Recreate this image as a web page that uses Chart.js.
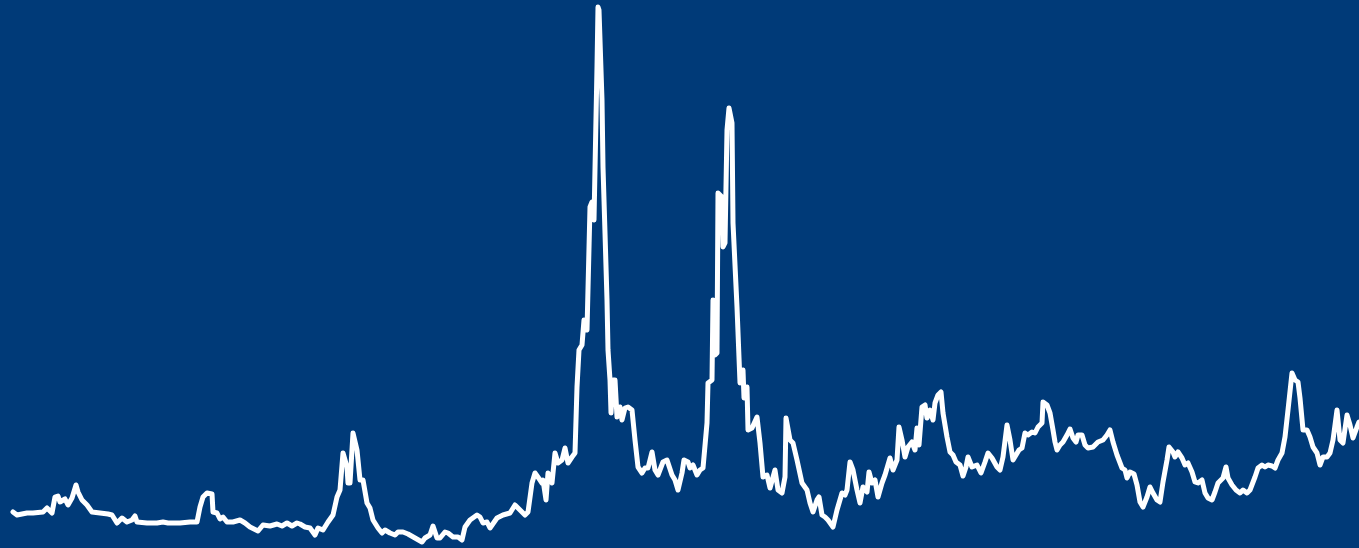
<!DOCTYPE html>
<html>
<head>
<meta charset="utf-8">
<script src="https://cdn.jsdelivr.net/npm/chart.js@4/dist/chart.umd.min.js"></script>
<style>
  html, body { margin: 0; padding: 0; background: #003a78; overflow: hidden; }
  #wrap { width: 1359px; height: 548px; position: relative; }
</style>
</head>
<body>
<div id="wrap"><canvas id="c"></canvas></div>
<script>
const days = [0,4,14,20,30,34,39,42,45,47,52,55,59,63,65,69,74,79,87,95,99,104,109,114,119,122,124,134,144,150,155,167,177,184,187,190,194,199,200,204,207,210,214,220,227,232,237,245,250,257,264,269,274,279,284,287,292,297,302,305,310,315,320,324,327,330,334,335,337,340,344,347,350,354,357,360,365,369,372,377,382,385,390,395,402,409,412,417,420,424,427,432,435,440,445,449,452,457,464,467,470,474,477,484,490,497,502,507,512,515,519,522,527,529,530,533,535,539,542,545,549,552,555,559,562,564,566,569,571,574,577,579,581,584,585,586,589,590,592,594,595,597,598,600,602,604,607,609,612,615,619,622,625,629,632,635,639,642,645,650,654,659,662,665,669,671,675,677,680,684,687,690,694,695,699,700,702,704,705,709,710,712,714,716,719,720,724,727,730,731,734,735,739,744,747,750,754,757,762,765,769,772,773,777,780,784,789,794,797,800,804,806,809,812,815,820,824,829,832,834,837,840,844,847,850,854,856,859,862,865,869,872,877,880,884,886,889,892,895,899,902,904,906,909,912,914,917,920,922,925,928,930,934,937,940,943,947,950,953,955,959,964,968,972,975,979,984,987,990,994,997,1000,1003,1006,1009,1012,1015,1019,1022,1025,1029,1030,1034,1037,1040,1042,1044,1047,1050,1054,1057,1060,1063,1065,1069,1072,1075,1080,1085,1090,1094,1097,1100,1104,1109,1112,1114,1117,1121,1124,1127,1130,1134,1137,1140,1144,1147,1150,1154,1156,1160,1162,1165,1169,1172,1175,1179,1182,1185,1189,1192,1195,1199,1202,1205,1210,1213,1215,1219,1223,1227,1230,1234,1237,1242,1245,1249,1252,1255,1259,1262,1265,1269,1272,1275,1279,1282,1285,1287,1290,1294,1297,1300,1304,1307,1310,1314,1317,1320,1324,1327,1330,1334,1337,1340,1344,1346];
const index = [36,33,35,35,36,40,35,51,52,46,49,43,50,63,56,48,43,36,35,34,33,25,30,26,28,32,26,25,25,26,25,25,26,26,41,51,55,54,36,35,29,31,26,26,28,25,21,17,23,22,24,22,25,22,25,24,21,20,13,20,18,26,33,51,58,95,81,65,65,115,98,68,68,45,40,28,20,15,18,15,13,16,16,14,10,6,10,13,22,10,10,16,15,11,11,8,21,28,33,31,25,26,20,30,33,35,43,38,33,36,65,75,68,65,68,48,75,65,95,85,88,100,85,91,95,161,198,203,228,218,341,346,328,481,541,538,448,381,315,248,198,168,135,168,168,131,141,128,140,141,138,108,81,75,80,80,96,78,73,86,88,73,68,58,75,88,86,80,83,73,78,80,125,165,168,248,193,195,355,351,301,305,418,440,425,325,241,165,178,150,161,118,120,131,105,71,73,60,78,58,55,71,130,108,105,88,65,58,45,36,48,51,33,31,28,21,38,55,53,58,86,78,58,45,61,56,76,65,68,51,65,73,90,78,88,121,108,91,101,106,98,120,103,141,143,130,138,128,145,153,156,135,111,96,93,86,83,72,81,91,81,83,75,86,95,90,81,78,91,123,108,88,93,98,100,115,113,116,115,121,125,146,143,135,118,106,98,103,106,113,119,110,106,113,113,103,100,101,106,108,113,118,106,93,80,78,70,76,74,63,46,41,51,61,55,48,46,66,88,101,96,91,96,90,83,85,76,66,65,68,55,50,48,56,65,70,81,70,63,58,55,58,55,58,71,80,83,81,83,82,80,88,95,111,138,175,168,166,150,118,118,111,101,95,83,91,91,95,108,138,108,105,133,123,110,121,126];

const bg = {
  id: 'bg',
  beforeDraw(chart) {
    const ctx = chart.ctx;
    ctx.save();
    ctx.fillStyle = '#003a78';
    ctx.fillRect(0, 0, chart.width, chart.height);
    ctx.restore();
  }
};

new Chart(document.getElementById('c'), {
  type: 'line',
  data: {
    datasets: [{
      data: days.map((d, i) => ({ x: d, y: index[i] })),
      borderColor: '#ffffff',
      borderWidth: 5,
      pointRadius: 0,
      tension: 0,
      fill: false,
      borderJoinStyle: 'round',
      borderCapStyle: 'round',
      clip: false
    }]
  },
  options: {
    responsive: true,
    maintainAspectRatio: false,
    animation: false,
    layout: { padding: { left: 13, right: 0, top: 0, bottom: 0 } },
    plugins: { legend: { display: false }, tooltip: { enabled: false } },
    scales: {
      x: { type: 'linear', min: 0, max: 1346, display: false },
      y: { min: 0, max: 548, display: false }
    }
  },
  plugins: [bg]
});
</script>
</body>
</html>
